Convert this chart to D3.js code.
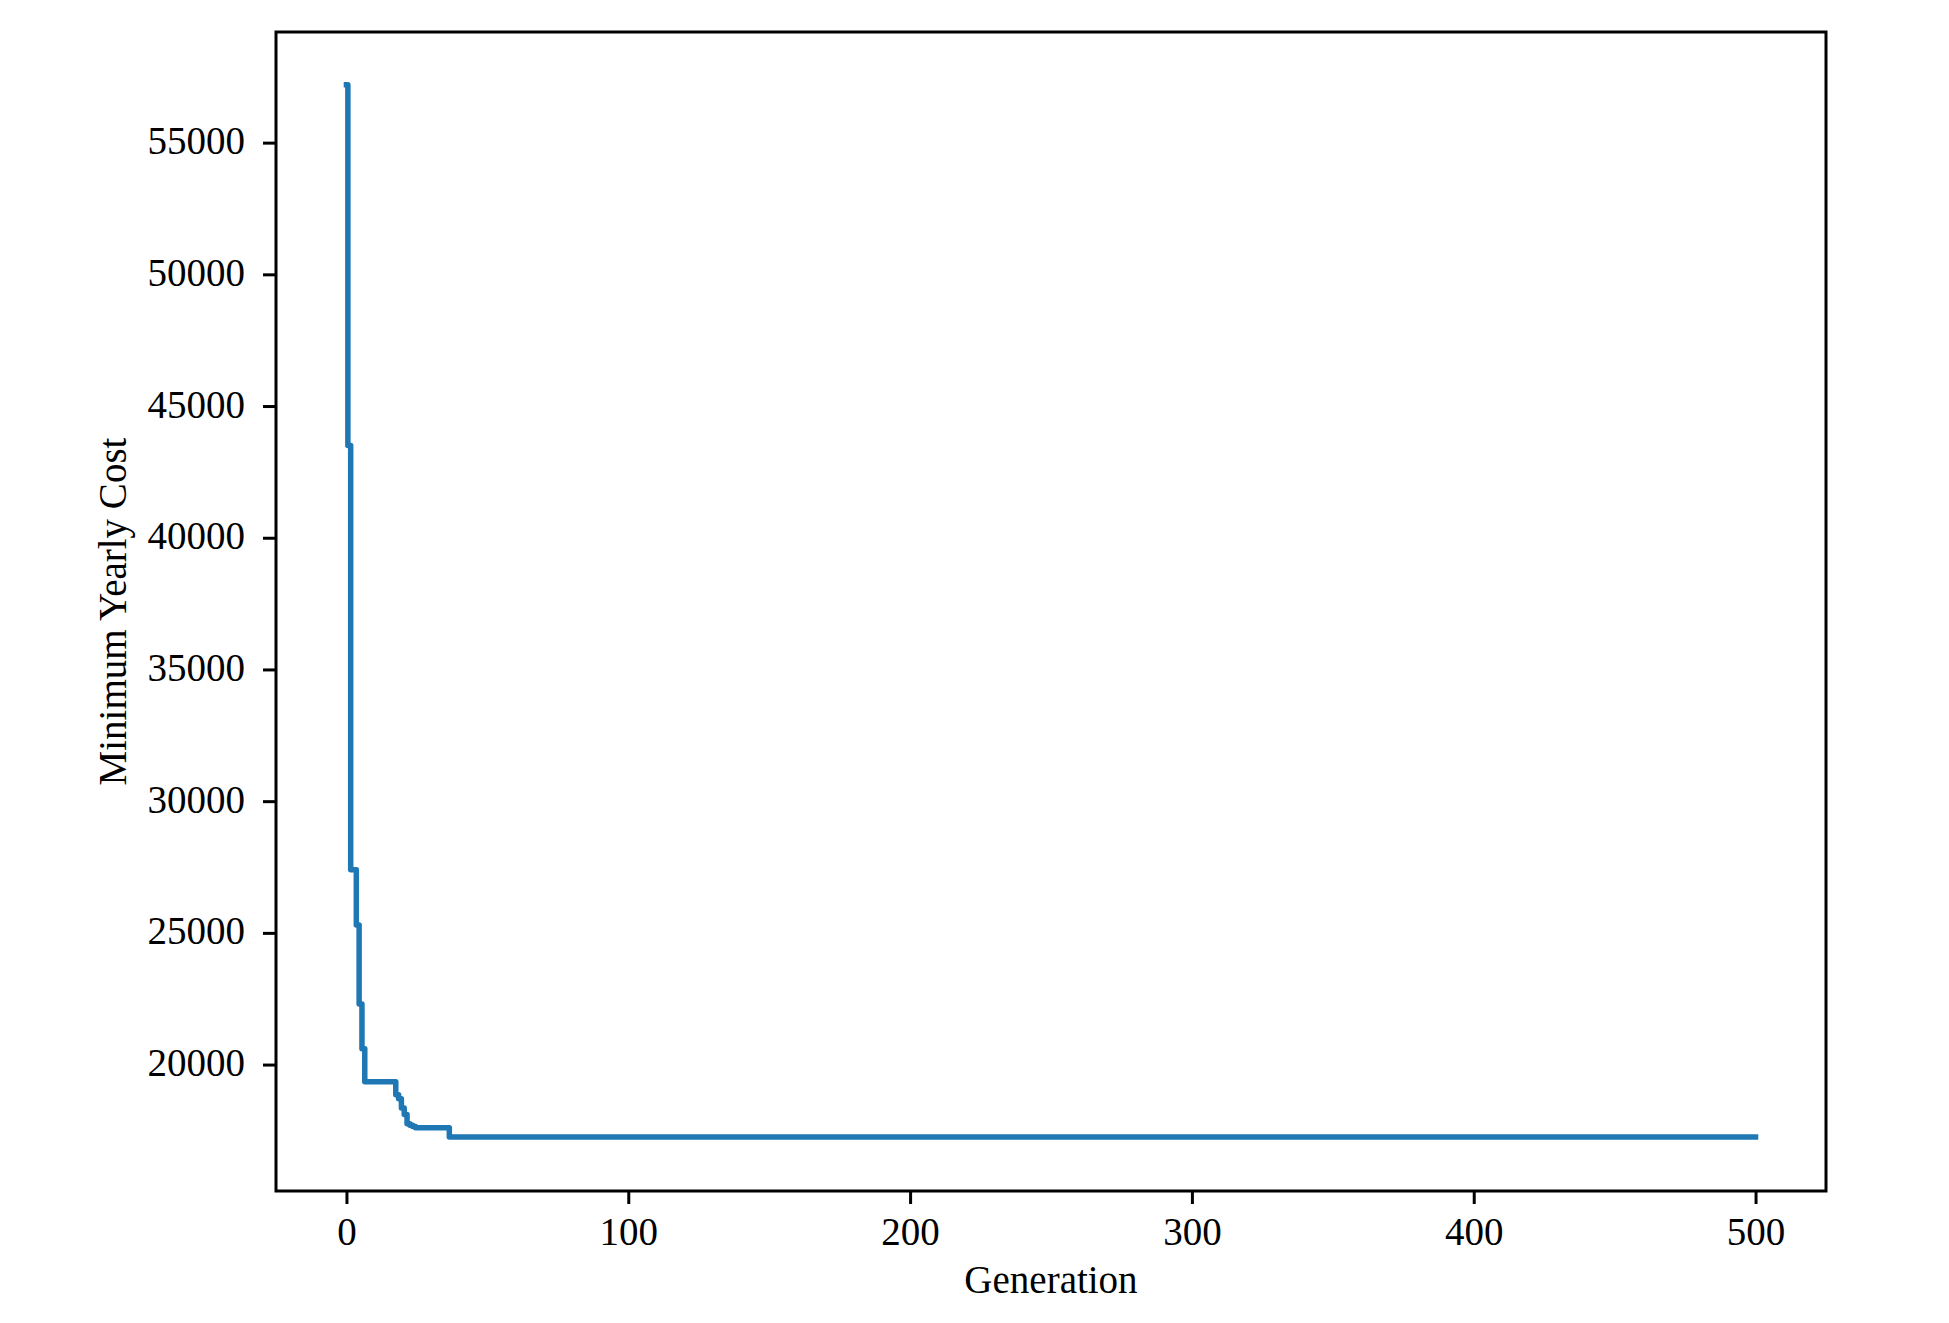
<!DOCTYPE html>
<html>
<head>
<meta charset="utf-8">
<script src="https://cdn.jsdelivr.net/npm/d3@7"></script>
<style>
  html, body { margin: 0; padding: 0; background: #fff; }
  svg { display: block; }
  text { font-family: "Liberation Serif", "Times New Roman", serif; fill: #000; }
</style>
</head>
<body>
<script>
// Data (generation, best-so-far cost; value held between listed generations)
const generations = [0, 1, 2, 3, 4, 5, 6, 7, 17, 18, 19, 20, 21, 22, 23, 24, 25, 36, 37, 500];
const minCost = [57200, 43500, 27400, 27400, 25300, 22300, 20600, 19350, 19350, 18850, 18700, 18350, 18100, 17750, 17700, 17650, 17600, 17600, 17250, 17250];
const xTicks = [0, 100, 200, 300, 400, 500];
const yTicks = [20000, 25000, 30000, 35000, 40000, 45000, 50000, 55000];
const xLabel = "Generation";
const yLabel = "Minimum Yearly Cost";

const W = 1949, H = 1323;
const mLeft = 276, mRight = 1826, mTop = 32, mBottom = 1191;
const fontSize = 39;

const svg = d3.select("body").append("svg").attr("width", W).attr("height", H);

const x = d3.scaleLinear().domain([-25, 525]).range([mLeft, mRight]);
const y = d3.scaleLinear().domain([15200, 59200]).range([mBottom, mTop]);

const pts = generations.map((g, i) => [g, minCost[i]]);

// line
svg.append("path")
  .datum(pts)
  .attr("fill", "none")
  .attr("stroke", "#1f77b4")
  .attr("stroke-width", 5.5)
  .attr("stroke-linejoin", "round")
  .attr("stroke-linecap", "square")
  .attr("d", d3.line().curve(d3.curveStep).x(d => x(d[0])).y(d => y(d[1])));

// axes
const xAxis = d3.axisBottom(x).tickValues(xTicks).tickSize(13).tickPadding(10).tickFormat(d3.format("d"));
const yAxis = d3.axisLeft(y).tickValues(yTicks).tickSize(13).tickPadding(18).tickFormat(d3.format("d"));

const gx = svg.append("g").attr("transform", `translate(0,${mBottom})`).call(xAxis);
const gy = svg.append("g").attr("transform", `translate(${mLeft},0)`).call(yAxis);

[gx, gy].forEach(g => {
  g.select(".domain").remove();
  g.selectAll(".tick line").attr("stroke", "#000").attr("stroke-width", 3);
  g.selectAll(".tick text")
    .style("font-family", '"Liberation Serif", "Times New Roman", serif')
    .style("font-size", fontSize + "px")
    .attr("fill", "#000");
});
gx.selectAll(".tick text").attr("dy", null).attr("y", 54);
gy.selectAll(".tick text").attr("dy", null).attr("y", 11);

// frame
svg.append("rect")
  .attr("x", mLeft).attr("y", mTop)
  .attr("width", mRight - mLeft).attr("height", mBottom - mTop)
  .attr("fill", "none").attr("stroke", "#000").attr("stroke-width", 3);

// axis labels
svg.append("text")
  .attr("x", (mLeft + mRight) / 2).attr("y", 1293)
  .attr("text-anchor", "middle")
  .style("font-size", fontSize + "px")
  .text(xLabel);

svg.append("text")
  .attr("transform", `translate(126,${(mTop + mBottom) / 2}) rotate(-90)`)
  .attr("text-anchor", "middle")
  .style("font-size", fontSize + "px")
  .text(yLabel);
</script>
</body>
</html>
